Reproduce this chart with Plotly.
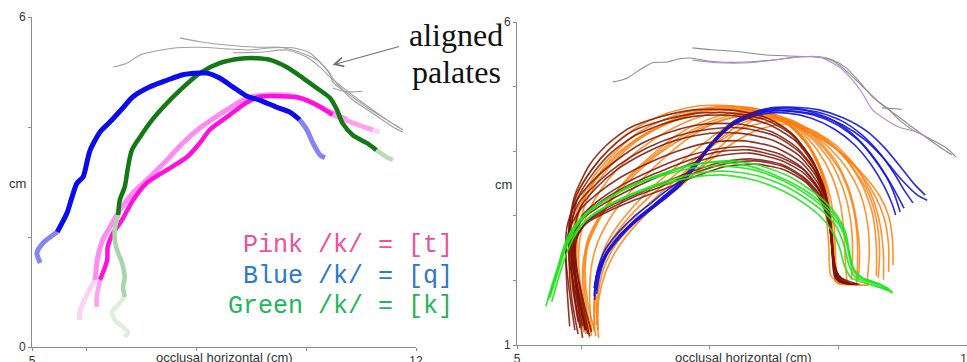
import plotly.graph_objects as go

# ---------------- LEFT PANEL DATA (cm) ----------------
blue_x = [5.15, 5.09, 5.20, 5.46, 5.64, 5.73, 5.82, 5.93, 6.02, 6.06, 6.24, 6.42, 6.66, 6.84, 7.15, 7.46, 7.75, 8.06, 8.19, 8.42, 8.66, 8.92, 9.15, 9.46, 9.70, 9.88, 10.01, 10.12, 10.25, 10.34]
blue_y = [1.53, 1.71, 1.89, 2.09, 2.44, 2.73, 2.98, 3.09, 3.44, 3.58, 3.91, 4.09, 4.35, 4.55, 4.73, 4.85, 4.95, 4.98, 4.98, 4.89, 4.73, 4.56, 4.49, 4.36, 4.27, 4.13, 3.95, 3.71, 3.49, 3.44]

green_x = [6.69, 6.75, 6.66, 6.51, 6.46, 6.60, 6.69, 6.66, 6.69, 6.64, 6.55, 6.51, 6.51, 6.57, 6.60, 6.69, 6.75, 6.82, 6.97, 7.19, 7.39, 7.70, 8.06, 8.42, 8.79, 9.10, 9.34, 9.64, 9.94, 10.19, 10.43, 10.56, 10.66, 10.85, 11.10, 11.28, 11.47, 11.58]
green_y = [0.18, 0.27, 0.36, 0.49, 0.64, 0.80, 0.91, 1.09, 1.27, 1.53, 1.76, 1.95, 2.13, 2.40, 2.67, 2.91, 3.27, 3.58, 3.82, 4.13, 4.36, 4.67, 4.98, 5.16, 5.24, 5.25, 5.22, 5.09, 4.89, 4.71, 4.53, 4.31, 4.07, 3.85, 3.71, 3.58, 3.45, 3.40]

lpink_x = [5.87, 5.87, 6.00, 6.15, 6.20, 6.29, 6.42, 6.60, 6.84, 7.15, 7.46, 7.75, 8.06, 8.55, 8.92, 9.28, 9.64, 10.01, 10.37, 10.74, 11.10, 11.34]
lpink_y = [0.49, 0.62, 0.95, 1.22, 1.64, 1.95, 2.18, 2.49, 2.80, 3.09, 3.40, 3.71, 3.98, 4.31, 4.53, 4.58, 4.58, 4.49, 4.31, 4.13, 3.98, 3.91]

magenta_x = [6.18, 6.18, 6.24, 6.37, 6.38, 6.48, 6.64, 6.84, 7.09, 7.46, 7.82, 8.06, 8.24, 8.55, 8.92, 9.15, 9.52, 9.88, 10.19, 10.48, 10.85, 11.21]
magenta_y = [0.73, 0.91, 1.22, 1.58, 1.82, 2.07, 2.31, 2.67, 2.98, 3.22, 3.45, 3.71, 3.95, 4.18, 4.45, 4.55, 4.56, 4.53, 4.40, 4.22, 4.07, 3.95]

palL_x = [
    [6.48, 6.73, 6.97, 7.15, 7.64, 8.06, 8.55, 8.97, 9.39, 9.75, 10.06, 10.25, 10.43, 10.48, 10.74, 11.10, 11.47, 11.76],
    [7.70, 8.06, 8.55, 9.10, 9.52, 9.75, 10.01, 10.19, 10.37, 10.48, 10.61, 10.85, 11.21, 11.58, 11.76],
    [8.66, 9.15, 9.64, 10.01, 10.25, 10.43, 10.61, 11.03, 11.47, 11.70],
    [10.48, 10.74, 11.03],
]
palL_y = [
    [5.09, 5.16, 5.31, 5.36, 5.44, 5.45, 5.42, 5.40, 5.44, 5.44, 5.35, 5.18, 4.98, 4.82, 4.62, 4.36, 4.13, 3.95],
    [5.62, 5.55, 5.49, 5.45, 5.45, 5.40, 5.31, 5.22, 5.04, 4.89, 4.73, 4.49, 4.25, 4.00, 3.91],
    [5.35, 5.36, 5.40, 5.27, 5.09, 4.91, 4.76, 4.44, 4.13, 3.98],
    [4.71, 4.64, 4.65],
]

# ---------------- RIGHT PANEL DATA (cm) ----------------
palR_x = [
    [6.49, 6.71, 6.91, 7.11, 7.33, 7.53, 7.73, 7.95, 8.15, 8.57, 8.98, 9.39, 9.70, 9.91, 10.12, 10.33, 10.53, 10.79, 10.95, 11.15, 11.37, 11.68, 11.83],
    [7.73, 8.04, 8.46, 8.88, 9.35, 9.81, 10.02, 10.22, 10.43, 10.64, 10.90, 11.15, 11.57, 11.77],
    [10.68, 10.99],
]
palR_y = [
    [5.07, 5.13, 5.26, 5.37, 5.38, 5.43, 5.44, 5.40, 5.38, 5.38, 5.41, 5.46, 5.46, 5.41, 5.29, 5.07, 4.84, 4.64, 4.48, 4.33, 4.22, 4.05, 3.91],
    [5.60, 5.57, 5.54, 5.49, 5.47, 5.44, 5.33, 5.15, 4.95, 4.75, 4.56, 4.37, 4.07, 3.94],
    [4.67, 4.65],
]
purple_x = [7.73, 8.11, 8.62, 8.98, 9.39, 9.70, 10.02, 10.22, 10.37, 10.53, 10.75, 10.95, 11.21, 11.46]
purple_y = [5.41, 5.37, 5.37, 5.41, 5.46, 5.46, 5.30, 5.10, 4.90, 4.64, 4.48, 4.37, 4.30, 4.17]

orange_x = [
    [5.98, 5.87, 5.81, 5.82, 5.95, 6.18, 6.48, 6.85, 7.31, 7.81, 8.34, 8.80, 9.19, 9.49, 9.69, 9.80, 9.85, 9.88, 10.02],
    [6.13, 6.01, 5.93, 5.95, 6.07, 6.29, 6.60, 6.99, 7.45, 7.95, 8.46, 8.90, 9.27, 9.55, 9.74, 9.84, 9.89, 9.92, 9.98, 10.48],
    [6.02, 5.92, 5.85, 5.87, 5.98, 6.18, 6.48, 6.86, 7.31, 7.81, 8.31, 8.77, 9.16, 9.47, 9.69, 9.81, 9.88, 9.91, 9.95],
    [6.07, 5.96, 5.89, 5.89, 5.98, 6.16, 6.43, 6.79, 7.22, 7.69, 8.15, 8.62, 9.02, 9.35, 9.61, 9.80, 9.91, 9.95, 9.97, 10.05],
    [6.13, 6.02, 5.96, 5.98, 6.10, 6.30, 6.58, 6.94, 7.34, 7.78, 8.21, 8.65, 9.05, 9.39, 9.67, 9.89, 10.03, 10.09, 10.11, 10.14],
    [6.23, 6.10, 6.06, 6.10, 6.26, 6.48, 6.75, 7.10, 7.47, 7.87, 8.28, 8.70, 9.08, 9.44, 9.75, 10.02, 10.19, 10.28, 10.30, 10.28],
    [6.16, 6.13, 6.15, 6.24, 6.41, 6.65, 6.93, 7.25, 7.61, 7.98, 8.37, 8.77, 9.16, 9.53, 9.86, 10.14, 10.34, 10.45, 10.48, 10.45],
    [6.27, 6.23, 6.24, 6.35, 6.54, 6.79, 7.08, 7.42, 7.78, 8.14, 8.51, 8.90, 9.27, 9.64, 9.98, 10.26, 10.47, 10.59, 10.64, 10.62],
    [6.20, 6.21, 6.29, 6.44, 6.66, 6.93, 7.22, 7.55, 7.89, 8.23, 8.59, 8.96, 9.32, 9.70, 10.08, 10.36, 10.57, 10.71, 10.78, 10.78],
    [6.24, 6.26, 6.35, 6.52, 6.75, 7.03, 7.34, 7.69, 8.03, 8.39, 8.74, 9.08, 9.39, 9.78, 10.14, 10.42, 10.64, 10.78, 10.84, 10.85],
    [6.10, 6.04, 6.02, 6.10, 6.29, 6.54, 6.85, 7.22, 7.64, 8.07, 8.52, 8.96, 9.35, 9.69, 9.97, 10.17, 10.28, 10.33, 10.31],
    [6.21, 6.20, 6.27, 6.44, 6.69, 7.00, 7.36, 7.75, 8.15, 8.57, 9.01, 9.43, 9.80, 10.12, 10.37, 10.53, 10.59, 10.59],
    [6.16, 6.07, 6.04, 6.10, 6.26, 6.51, 6.82, 7.17, 7.58, 8.01, 8.46, 8.90, 9.29, 9.61, 9.89, 10.08, 10.19, 10.22, 10.20],
    [6.26, 6.27, 6.38, 6.58, 6.85, 7.17, 7.53, 7.92, 8.32, 8.74, 9.18, 9.58, 9.95, 10.26, 10.50, 10.64, 10.70, 10.70],
    [6.04, 5.93, 5.87, 5.89, 6.01, 6.23, 6.52, 6.91, 7.38, 7.87, 8.39, 8.85, 9.24, 9.53, 9.74, 9.86, 9.92, 9.95, 10.02],
]
orange_y = [
    [1.31, 1.85, 2.39, 2.90, 3.35, 3.74, 4.08, 4.36, 4.58, 4.70, 4.70, 4.59, 4.34, 3.99, 3.55, 3.06, 2.55, 2.08, 1.94],
    [1.11, 1.67, 2.24, 2.75, 3.20, 3.57, 3.93, 4.24, 4.47, 4.63, 4.67, 4.59, 4.37, 4.05, 3.63, 3.14, 2.63, 2.16, 1.96, 1.93],
    [1.26, 1.80, 2.32, 2.78, 3.21, 3.59, 3.94, 4.27, 4.50, 4.65, 4.70, 4.65, 4.48, 4.20, 3.82, 3.35, 2.84, 2.35, 1.98],
    [1.17, 1.70, 2.22, 2.69, 3.09, 3.46, 3.80, 4.13, 4.39, 4.59, 4.68, 4.67, 4.55, 4.31, 3.97, 3.55, 3.09, 2.59, 2.13, 1.94],
    [1.23, 1.73, 2.22, 2.66, 3.04, 3.40, 3.74, 4.05, 4.31, 4.51, 4.62, 4.64, 4.55, 4.33, 4.02, 3.63, 3.18, 2.69, 2.24, 1.93],
    [1.14, 1.65, 2.13, 2.53, 2.90, 3.28, 3.62, 3.94, 4.24, 4.45, 4.58, 4.61, 4.53, 4.34, 4.07, 3.71, 3.28, 2.81, 2.35, 1.93],
    [1.20, 1.70, 2.16, 2.55, 2.90, 3.24, 3.55, 3.86, 4.16, 4.39, 4.53, 4.58, 4.50, 4.31, 4.05, 3.72, 3.34, 2.90, 2.44, 2.01],
    [1.11, 1.62, 2.08, 2.47, 2.81, 3.12, 3.42, 3.71, 4.02, 4.30, 4.48, 4.55, 4.47, 4.28, 4.02, 3.69, 3.34, 2.94, 2.47, 2.04],
    [1.23, 1.73, 2.16, 2.52, 2.81, 3.07, 3.34, 3.62, 3.94, 4.25, 4.47, 4.51, 4.41, 4.22, 3.94, 3.63, 3.31, 2.97, 2.55, 2.13],
    [1.31, 1.77, 2.19, 2.53, 2.81, 3.06, 3.29, 3.59, 3.94, 4.28, 4.51, 4.50, 4.36, 4.16, 3.89, 3.60, 3.31, 3.00, 2.63, 2.24],
    [1.17, 1.70, 2.19, 2.63, 3.01, 3.37, 3.69, 4.00, 4.28, 4.48, 4.59, 4.58, 4.44, 4.17, 3.83, 3.40, 2.93, 2.44, 2.01],
    [1.20, 1.70, 2.16, 2.56, 2.92, 3.24, 3.55, 3.86, 4.16, 4.37, 4.47, 4.39, 4.19, 3.88, 3.48, 3.03, 2.53, 2.07],
    [1.14, 1.67, 2.16, 2.58, 2.93, 3.29, 3.62, 3.93, 4.20, 4.42, 4.54, 4.56, 4.42, 4.17, 3.82, 3.40, 2.93, 2.47, 2.01],
    [1.23, 1.70, 2.13, 2.52, 2.86, 3.17, 3.46, 3.79, 4.10, 4.33, 4.42, 4.33, 4.10, 3.77, 3.35, 2.90, 2.41, 2.01],
    [1.20, 1.74, 2.28, 2.78, 3.21, 3.59, 3.93, 4.22, 4.45, 4.61, 4.65, 4.59, 4.39, 4.08, 3.68, 3.18, 2.66, 2.19, 1.96],
]

brown_x = [
    [6.02, 5.93, 5.82, 5.81, 5.90, 6.13, 6.40, 6.75, 7.22, 7.76, 8.31, 8.85, 9.27, 9.58, 9.78, 9.86, 9.91, 9.95, 10.17],
    [6.10, 5.98, 5.87, 5.84, 5.95, 6.20, 6.48, 6.85, 7.33, 7.84, 8.39, 8.90, 9.32, 9.61, 9.80, 9.88, 9.92, 9.98, 10.26],
    [5.90, 5.82, 5.76, 5.78, 5.93, 6.23, 6.55, 6.96, 7.42, 7.92, 8.46, 8.96, 9.36, 9.64, 9.81, 9.89, 9.94, 10.05],
    [6.16, 6.02, 5.92, 5.89, 5.98, 6.23, 6.55, 6.97, 7.45, 7.95, 8.46, 8.98, 9.38, 9.66, 9.83, 9.89, 9.94, 10.14],
    [5.82, 5.78, 5.76, 5.81, 5.98, 6.26, 6.62, 7.07, 7.55, 8.03, 8.54, 9.04, 9.43, 9.69, 9.85, 9.91, 9.95, 10.30],
    [6.07, 5.96, 5.89, 5.89, 6.02, 6.30, 6.66, 7.11, 7.61, 8.09, 8.59, 9.07, 9.44, 9.69, 9.85, 9.91, 9.97],
    [5.98, 5.89, 5.84, 5.87, 6.04, 6.34, 6.71, 7.16, 7.66, 8.14, 8.62, 9.10, 9.46, 9.71, 9.85, 9.92, 9.98, 10.20],
    [6.13, 6.01, 5.92, 5.92, 6.07, 6.37, 6.75, 7.21, 7.70, 8.18, 8.66, 9.13, 9.47, 9.72, 9.86, 9.92, 10.02],
    [5.95, 5.87, 5.85, 5.92, 6.10, 6.40, 6.79, 7.25, 7.75, 8.23, 8.71, 9.16, 9.49, 9.72, 9.86, 9.92, 10.00, 10.33],
    [6.06, 5.95, 5.85, 5.82, 5.92, 6.16, 6.44, 6.80, 7.28, 7.81, 8.34, 8.88, 9.29, 9.60, 9.78, 9.88, 9.92, 9.97, 10.22],
    [5.95, 5.85, 5.81, 5.82, 5.96, 6.26, 6.60, 7.02, 7.50, 7.98, 8.49, 9.01, 9.39, 9.66, 9.83, 9.89, 9.94, 10.09],
    [6.02, 5.93, 5.87, 5.89, 6.04, 6.32, 6.69, 7.14, 7.64, 8.12, 8.60, 9.08, 9.46, 9.70, 9.84, 9.91, 9.97],
    [6.07, 5.96, 5.90, 5.93, 6.10, 6.40, 6.79, 7.24, 7.73, 8.21, 8.70, 9.15, 9.49, 9.72, 9.86, 9.92, 10.02, 10.26],
]
brown_y = [
    [1.11, 1.70, 2.28, 2.86, 3.32, 3.79, 4.10, 4.36, 4.53, 4.64, 4.64, 4.53, 4.28, 3.89, 3.43, 2.93, 2.39, 2.04, 1.96],
    [1.17, 1.73, 2.28, 2.81, 3.28, 3.68, 3.99, 4.25, 4.44, 4.55, 4.55, 4.42, 4.17, 3.80, 3.35, 2.84, 2.32, 2.01, 1.94],
    [1.23, 1.79, 2.35, 2.84, 3.24, 3.59, 3.86, 4.13, 4.31, 4.42, 4.42, 4.30, 4.05, 3.69, 3.26, 2.75, 2.22, 1.98],
    [1.20, 1.73, 2.25, 2.75, 3.12, 3.43, 3.71, 3.96, 4.16, 4.27, 4.28, 4.17, 3.94, 3.60, 3.18, 2.66, 2.16, 1.96],
    [1.29, 1.85, 2.38, 2.78, 3.09, 3.35, 3.60, 3.83, 4.02, 4.14, 4.16, 4.05, 3.82, 3.49, 3.09, 2.56, 2.10, 1.94],
    [1.23, 1.77, 2.28, 2.69, 3.01, 3.26, 3.49, 3.71, 3.91, 4.03, 4.07, 3.96, 3.74, 3.43, 3.03, 2.47, 2.04],
    [1.26, 1.82, 2.35, 2.69, 2.97, 3.18, 3.38, 3.59, 3.79, 3.93, 3.97, 3.86, 3.66, 3.37, 2.97, 2.41, 2.01, 1.94],
    [1.14, 1.70, 2.22, 2.63, 2.90, 3.11, 3.29, 3.48, 3.68, 3.83, 3.88, 3.79, 3.59, 3.31, 2.90, 2.35, 1.98],
    [1.36, 1.88, 2.35, 2.69, 2.90, 3.06, 3.23, 3.40, 3.60, 3.76, 3.80, 3.71, 3.52, 3.24, 2.84, 2.29, 1.99, 1.94],
    [1.23, 1.76, 2.32, 2.84, 3.31, 3.71, 4.03, 4.31, 4.48, 4.59, 4.59, 4.48, 4.24, 3.85, 3.40, 2.89, 2.35, 2.02, 1.94],
    [1.17, 1.73, 2.28, 2.80, 3.20, 3.52, 3.80, 4.05, 4.24, 4.34, 4.36, 4.24, 3.99, 3.65, 3.21, 2.70, 2.19, 1.96],
    [1.29, 1.80, 2.32, 2.72, 3.00, 3.23, 3.45, 3.65, 3.85, 3.99, 4.02, 3.91, 3.71, 3.40, 3.00, 2.44, 2.02],
    [1.23, 1.76, 2.28, 2.66, 2.92, 3.09, 3.28, 3.45, 3.65, 3.80, 3.85, 3.76, 3.55, 3.28, 2.87, 2.32, 1.98, 1.94],
]

bl_x = [
    [6.23, 6.29, 6.43, 6.63, 6.85, 7.10, 7.34, 7.56, 7.78, 8.03, 8.35, 8.65, 8.93, 9.32, 9.70, 10.09, 10.44, 10.73, 10.98, 11.18, 11.35],
    [6.21, 6.26, 6.40, 6.60, 6.82, 7.07, 7.31, 7.53, 7.75, 8.00, 8.32, 8.62, 8.90, 9.27, 9.66, 10.05, 10.37, 10.65, 10.87, 11.04, 11.16],
    [6.20, 6.24, 6.37, 6.57, 6.79, 7.03, 7.28, 7.52, 7.73, 7.98, 8.29, 8.59, 8.87, 9.24, 9.61, 9.98, 10.31, 10.57, 10.78, 10.90, 10.96],
    [6.21, 6.23, 6.35, 6.54, 6.75, 7.00, 7.25, 7.50, 7.72, 7.97, 8.26, 8.56, 8.84, 9.21, 9.58, 9.94, 10.25, 10.51, 10.71, 10.84, 10.89],
    [6.24, 6.29, 6.41, 6.61, 6.83, 7.08, 7.33, 7.55, 7.76, 8.01, 8.34, 8.63, 8.91, 9.29, 9.67, 10.06, 10.42, 10.73, 10.99, 11.23, 11.38],
    [6.20, 6.26, 6.38, 6.58, 6.80, 7.05, 7.30, 7.53, 7.75, 8.01, 8.34, 8.63, 8.91, 9.29, 9.64, 9.98, 10.30, 10.56, 10.76, 10.92, 11.02],
]
bl_y = [
    [1.85, 2.16, 2.47, 2.73, 2.95, 3.15, 3.35, 3.54, 3.80, 4.14, 4.45, 4.59, 4.67, 4.68, 4.64, 4.51, 4.31, 4.04, 3.74, 3.49, 3.32],
    [1.82, 2.13, 2.44, 2.70, 2.92, 3.12, 3.32, 3.49, 3.74, 4.08, 4.41, 4.56, 4.64, 4.65, 4.61, 4.47, 4.25, 3.96, 3.65, 3.37, 3.20],
    [1.76, 2.08, 2.39, 2.66, 2.87, 3.07, 3.28, 3.46, 3.71, 4.05, 4.38, 4.53, 4.61, 4.62, 4.56, 4.41, 4.17, 3.86, 3.54, 3.25, 3.06],
    [1.70, 2.04, 2.36, 2.63, 2.84, 3.04, 3.24, 3.43, 3.68, 4.02, 4.34, 4.50, 4.58, 4.59, 4.51, 4.34, 4.10, 3.79, 3.46, 3.17, 3.01],
    [1.79, 2.10, 2.41, 2.67, 2.89, 3.09, 3.29, 3.48, 3.74, 4.07, 4.39, 4.54, 4.62, 4.62, 4.56, 4.41, 4.17, 3.86, 3.55, 3.32, 3.24],
    [1.88, 2.19, 2.49, 2.75, 2.97, 3.17, 3.37, 3.54, 3.79, 4.11, 4.42, 4.58, 4.65, 4.67, 4.59, 4.44, 4.19, 3.89, 3.59, 3.31, 3.12],
]

gr_x = [
    [5.48, 5.61, 5.71, 5.85, 6.07, 6.37, 6.75, 7.22, 7.69, 8.15, 8.62, 9.08, 9.47, 9.74, 9.94, 10.06, 10.14, 10.20, 10.30, 10.51, 10.79],
    [5.51, 5.64, 5.76, 5.92, 6.13, 6.44, 6.83, 7.28, 7.75, 8.21, 8.68, 9.15, 9.52, 9.78, 9.98, 10.11, 10.17, 10.25, 10.40, 10.67, 10.84],
    [5.54, 5.65, 5.78, 5.93, 6.15, 6.48, 6.88, 7.34, 7.81, 8.28, 8.74, 9.19, 9.55, 9.80, 9.98, 10.09, 10.16, 10.26, 10.51, 10.79],
    [5.45, 5.57, 5.70, 5.87, 6.10, 6.41, 6.82, 7.28, 7.75, 8.23, 8.70, 9.15, 9.50, 9.74, 9.91, 10.02, 10.09, 10.20, 10.48, 10.76],
    [5.51, 5.64, 5.76, 5.93, 6.16, 6.49, 6.89, 7.34, 7.81, 8.28, 8.74, 9.19, 9.55, 9.80, 9.98, 10.11, 10.17, 10.23, 10.36, 10.64, 10.84],
]
gr_y = [
    [1.70, 2.08, 2.47, 2.78, 3.04, 3.24, 3.46, 3.63, 3.79, 3.83, 3.77, 3.60, 3.40, 3.20, 3.01, 2.81, 2.53, 2.24, 2.07, 1.99, 1.87],
    [1.73, 2.13, 2.52, 2.83, 3.07, 3.28, 3.48, 3.63, 3.74, 3.77, 3.71, 3.54, 3.32, 3.12, 2.90, 2.67, 2.38, 2.15, 2.02, 1.93, 1.82],
    [1.67, 2.05, 2.44, 2.75, 3.00, 3.20, 3.38, 3.54, 3.66, 3.69, 3.62, 3.45, 3.23, 3.03, 2.81, 2.53, 2.25, 2.05, 1.96, 1.84],
    [1.60, 2.01, 2.38, 2.70, 2.95, 3.15, 3.34, 3.49, 3.60, 3.63, 3.55, 3.38, 3.17, 2.97, 2.75, 2.50, 2.24, 2.04, 1.94, 1.85],
    [1.77, 2.19, 2.56, 2.86, 3.11, 3.31, 3.51, 3.68, 3.80, 3.85, 3.79, 3.63, 3.41, 3.21, 3.00, 2.75, 2.44, 2.19, 2.04, 1.94, 1.80],
]

legend_lines = ["Pink /k/ = [t]", "Blue /k/ = [q]", "Green /k/ = [k]"]
legend_colors = ["#f0509a", "#2a7ac8", "#25b458"]

W, H = 967, 362
fig = go.Figure()


def add(xs, ys, color, width, xa="x", ya="y", opacity=1.0):
    fig.add_trace(go.Scatter(
        x=xs, y=ys, mode="lines", xaxis=xa, yaxis=ya, opacity=opacity,
        line=dict(color=color, width=width, shape="spline", smoothing=0.7),
        hoverinfo="skip", showlegend=False))


def add_faded(xs, ys, color, faded, width, a, b, xa="x", ya="y"):
    if a > 0:
        add(xs[:a + 1], ys[:a + 1], faded, width, xa, ya)
    add(xs[a:b + 1], ys[a:b + 1], color, width, xa, ya)
    if b < len(xs) - 1:
        add(xs[b:], ys[b:], faded, width, xa, ya)


# ---- left panel ----
for px_, py_ in zip(palL_x, palL_y):
    add(px_, py_, "#a0a0a0", 1.1)
add_faded(lpink_x, lpink_y, "#ff8cef", "#ffd2f6", 5, 3, 19)
add_faded(magenta_x, magenta_y, "#ff10df", "#ffa0f0", 4.5, 2, 19)
add(green_x[:7], green_y[:7], "#dcefdc", 4.5)
add(green_x[6:14], green_y[6:14], "#a8d6a8", 4.5)
add(green_x[13:36], green_y[13:36], "#127a12", 4.5)
add(green_x[35:], green_y[35:], "#b8dcb8", 4.5)
add_faded(blue_x, blue_y, "#0a0af0", "#8484f4", 5, 3, 25)

# ---- right panel ----
for px_, py_ in zip(palR_x, palR_y):
    add(px_, py_, "#8c8c8c", 1.1, "x2", "y2")
add(purple_x, purple_y, "#b68ad0", 1.1, "x2", "y2")
for xs, ys in zip(orange_x, orange_y):
    add(xs, ys, "#ff7f0e", 1.6, "x2", "y2", 0.85)
for xs, ys in zip(bl_x, bl_y):
    add(xs, ys, "#1414dc", 1.6, "x2", "y2", 0.9)
for xs, ys in zip(brown_x, brown_y):
    add(xs, ys, "#7e1204", 1.6, "x2", "y2", 0.85)
for xs, ys in zip(gr_x, gr_y):
    add(xs, ys, "#22e61e", 1.7, "x2", "y2", 0.9)

axis_common = dict(showline=True, linecolor="#8c8c8c", linewidth=1, ticks="outside", ticklen=3,
                   tickcolor="#8c8c8c", showgrid=False, zeroline=False, fixedrange=True,
                   automargin=False, ticklabeloverflow="allow",
                   tickfont=dict(family="Liberation Sans, Arial, sans-serif", size=12, color="#333333"))

fig.update_layout(
    width=W, height=H, margin=dict(l=0, r=0, t=0, b=0, autoexpand=False),
    paper_bgcolor="white", plot_bgcolor="white",
    xaxis=dict(domain=[32 / W, 416 / W], range=[5, 12], anchor="y",
               tickvals=[5, 6, 8, 10, 12], ticktext=["5", "", "", "", "12"], **axis_common),
    yaxis=dict(domain=[(H - 347) / H, (H - 17) / H], range=[0, 6], anchor="x",
               tickvals=[0, 2, 4, 6], ticktext=["0", "", "", "6"], **axis_common),
    xaxis2=dict(domain=[517 / W, 1.0], range=[5, 12], anchor="y2",
                tickvals=[5, 6, 8, 10, 12], ticktext=["5", "", "", "", "12"], **axis_common),
    yaxis2=dict(domain=[(H - 345) / H, (H - 22) / H], range=[1, 6], anchor="x2",
                tickvals=[1, 2, 3, 4, 5, 6], ticktext=["1", "", "", "", "", "6"], **axis_common),
)

ann = []


def label(text, px, py, font, xanchor="center"):
    ann.append(dict(text=text, x=px / W, y=1 - py / H, xref="paper", yref="paper", showarrow=False,
                    xanchor=xanchor, yanchor="middle", font=font))


small = dict(family="Liberation Sans, Arial, sans-serif", size=13, color="#333333")
label("cm", 17, 183, small)
label("cm", 503, 184, small)
label("occlusal horizontal (cm)", 224, 357, small)
label("occlusal horizontal (cm)", 743, 357, small)
serif = dict(family="Liberation Serif, Times New Roman, serif", size=32, color="#111111")
label("aligned", 456, 35, serif)
label("palates", 456, 72, serif)
ann.append(dict(text="", x=10.48, y=5.13, xref="x", yref="y", ax=11.72, ay=5.47, axref="x", ayref="y",
                showarrow=True, arrowhead=5, arrowsize=1.6, arrowwidth=1.1, arrowcolor="#707070"))
mono_y = [245, 276, 306]
for t, c, yy in zip(legend_lines, legend_colors, mono_y):
    label(t, 455, yy, dict(family="Liberation Mono, Courier New, monospace", size=25, color=c), xanchor="right")
fig.update_layout(annotations=ann)

fig.write_html("out.html", config={"displayModeBar": False},
               post_script="document.body.style.margin='0';document.body.style.overflow='hidden';")
